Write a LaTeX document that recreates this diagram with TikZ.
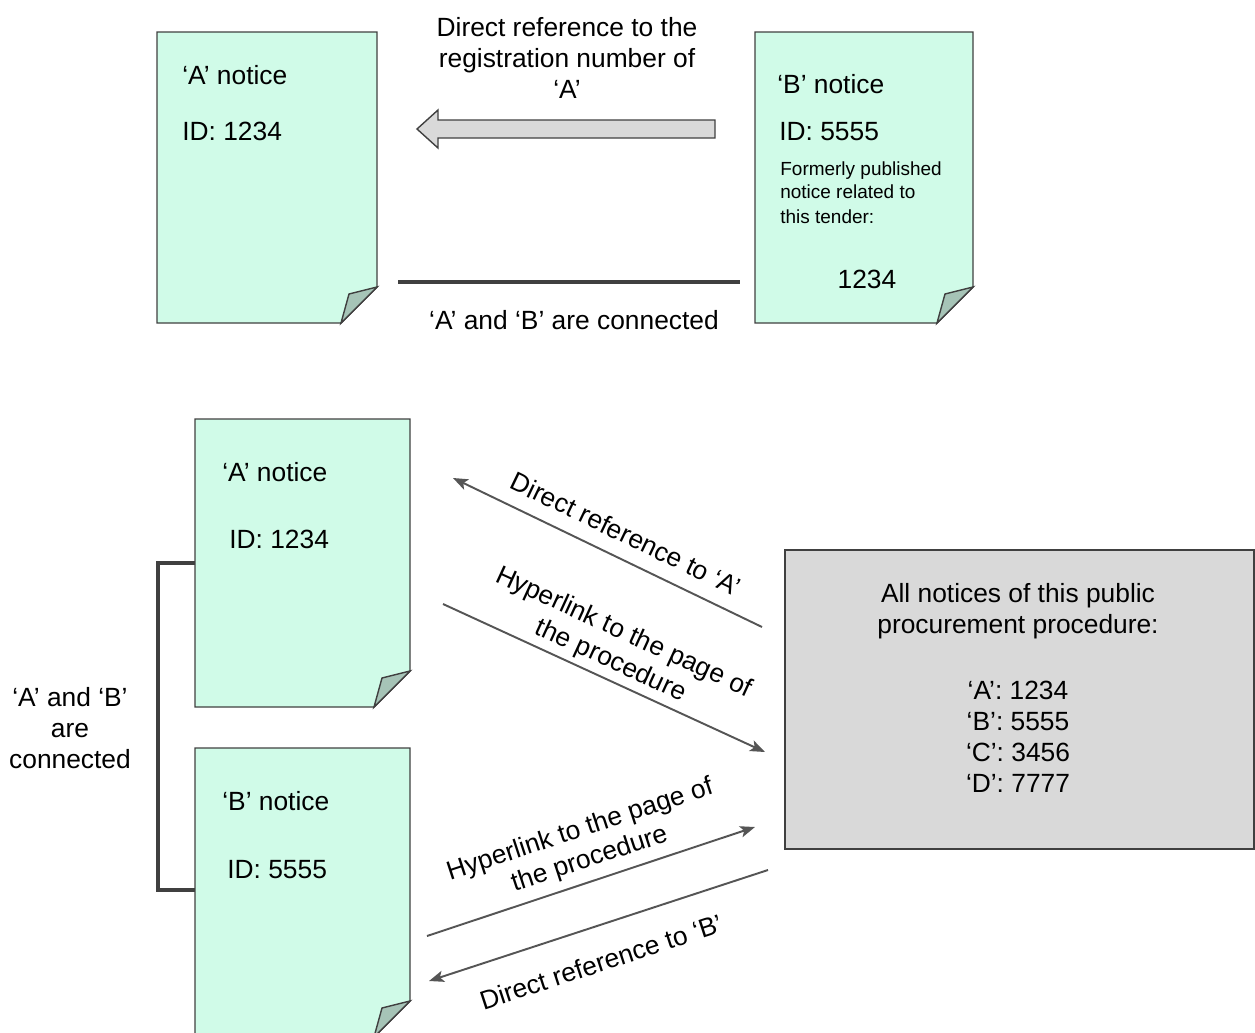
\documentclass[tikz,border=0pt]{standalone}
\usepackage{fontspec}
\setmainfont{Liberation Sans}
\usetikzlibrary{arrows.meta}
\definecolor{mint}{HTML}{D0FBE8}
\definecolor{flap}{HTML}{A6C4B7}
\definecolor{docline}{HTML}{404040}
\definecolor{panel}{HTML}{D9D9D9}
\definecolor{ink}{HTML}{555555}

% paper sheet with a turned corner: x1,y1 (top left), x2,y2 (bottom right)
\newcommand{\noticepage}[4]{%
  \filldraw[docline,fill=mint,line width=0.8pt] (#1,#2) -- (#3,#2) -- (#3,#4-36) -- (#3-36,#4) -- (#1,#4) -- cycle;
  \filldraw[docline,fill=flap,line width=0.8pt] (#3,#4-36) -- (#3-28,#4-29) -- (#3-36,#4) -- cycle;}

\tikzset{
  txt/.style={font=\fontsize{15}{17.6}\selectfont,inner sep=0pt},
  small/.style={font=\fontsize{10.8}{13}\selectfont,inner sep=0pt,anchor=base west},
  link/.style={ink,line width=1.1pt,-{Stealth[length=8.5pt,width=6.5pt,inset=2pt]}},
  joint/.style={docline,line width=2pt}
}

\begin{document}
\begin{tikzpicture}[x=0.02cm,y=-0.02cm]
\useasboundingbox (0,0) rectangle (1255,1032);
\clip (0,0) rectangle (1255,1032);

% top row
\noticepage{157}{32}{377}{323}
\noticepage{755}{32}{973}{323}
\node[txt,anchor=base west] (topA) at (182,84) {‘A’ notice};
\node[txt,anchor=base west] (topAid) at (182,140) {ID: 1234};
\node[txt,anchor=base west] (topB) at (777,93) {‘B’ notice};
\node[txt,anchor=base west] (topBid) at (779,140) {ID: 5555};
\node[small] (former1) at (780,175) {Formerly published};
\node[small] (former2) at (780,198) {notice related to};
\node[small] (former3) at (780,223) {this tender:};
\node[txt] (topBref) at (867,279) {1234};

\node[txt,align=center] (regnote) at (567,58) {Direct reference to the\\registration number of\\‘A’};
\filldraw[docline,fill=panel,line width=0.8pt] (715,120) -- (438,120) -- (438,110) -- (417,129)
  -- (438,148) -- (438,138) -- (715,138) -- cycle;

\coordinate (joinL) at (398,282);
\coordinate (joinR) at (740,282);
\draw[joint,line width=2.4pt] (joinL) -- (joinR);
\node[txt] (joinnote) at (574,320) {‘A’ and ‘B’ are connected};

% bottom row
\noticepage{195}{419}{410}{707}
\noticepage{195}{748}{410}{1037}
\node[txt,anchor=base west] (botA) at (222,481) {‘A’ notice};
\node[txt,anchor=base west] (botAid) at (229,548) {ID: 1234};
\node[txt,anchor=base west] (botB) at (222,810) {‘B’ notice};
\node[txt,anchor=base west] (botBid) at (227,878) {ID: 5555};

\coordinate (brA) at (195,563);
\coordinate (brB) at (195,890);
\draw[joint] (brA) -- (158,563) -- (158,890) -- (brB);
\node[txt,align=center] (pairnote) at (70,728) {‘A’ and ‘B’\\are\\connected};

\filldraw[docline,fill=panel,line width=0.8pt] (785,550) rectangle (1254,849);
\node[txt,align=center] (alltitle) at (1018,611) {All notices of this public\\procurement procedure:};
\node[txt,align=center] (alllist) at (1018,737) {‘A’: 1234\\‘B’: 5555\\‘C’: 3456\\‘D’: 7777};

\coordinate (refAfrom) at (762,627);
\coordinate (refAto) at (453,478);
\coordinate (linkAfrom) at (443,604);
\coordinate (linkAto) at (765,752);
\coordinate (linkBfrom) at (427,936);
\coordinate (linkBto) at (755,827);
\coordinate (refBfrom) at (768,870);
\coordinate (refBto) at (429,981);

\draw[link] (refAfrom) -- (refAto);
\draw[link] (linkAfrom) -- (linkAto);
\draw[link] (linkBfrom) -- (linkBto);
\draw[link] (refBfrom) -- (refBto);

\node[txt,rotate=-25.7] (refAnote) at (626,534) {Direct reference to ‘A’};
\node[txt,rotate=-24.7,align=center] (linkAnote) at (617,647) {Hyperlink to the page of\\the procedure};
\node[txt,rotate=18.2,align=center] (linkBnote) at (585,845) {Hyperlink to the page of\\the procedure};
\node[txt,rotate=18.1] (refBnote) at (601,962) {Direct reference to ‘B’};
\end{tikzpicture}
\end{document}
